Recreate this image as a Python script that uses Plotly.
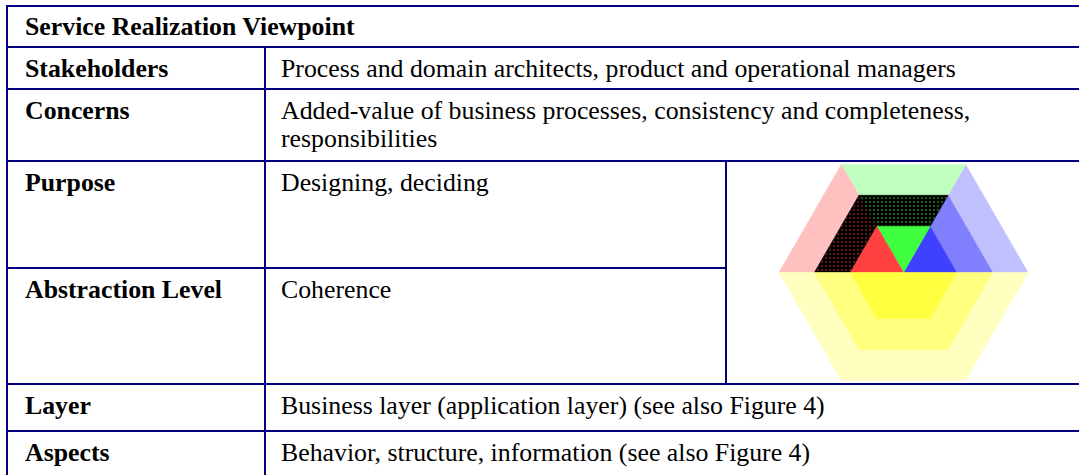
import numpy as np
import plotly.graph_objects as go

W, H = 1079, 475

# ---------------- data ----------------
title_text = "Service Realization Viewpoint"
row_labels = ["Stakeholders", "Concerns", "Purpose", "Abstraction Level", "Layer", "Aspects"]
row_values = [
    ["Process and domain architects, product and operational managers"],
    ["Added-value of business processes, consistency and completeness,", "responsibilities"],
    ["Designing, deciding"],
    ["Coherence"],
    ["Business layer (application layer) (see also Figure 4)"],
    ["Behavior, structure, information (see also Figure 4)"],
]

# hexagon (viewpoint icon): relative radii of the three rings
ring_radii = [1.0, 0.716, 0.427]
# upper half sectors: right (0-60 deg), top (60-120 deg), left (120-180 deg)
sector_angles = [(0, 60), (60, 120), (120, 180)]
upper_colors = [
    ["#C0C0FF", "#C0FFC0", "#FFC0C0"],
    ["#8080FF", "pattern:#40FF40", "pattern:#FF4040"],
    ["#4040FF", "#40FF40", "#FF4040"],
]
lower_colors = ["#FFFFC0", "#FFFF80", "#FFFF40"]

# ---------------- layout geometry ----------------
LINE = "#000080"
FONT = "Liberation Serif, Times New Roman, serif"
FS = 25.8
x_left, x_col1, x_col2 = 7, 265, 726
row_tops = [6, 47, 89, 161, 268, 384, 431]  # title, stakeholders, concerns, purpose, abstraction, layer, aspects
cx, cy, R = 903.5, 272.5, 124.5

fig = go.Figure()


def hexpt(r, ang):
    a = np.deg2rad(ang)
    return cx + r * np.cos(a), cy - r * np.sin(a)


def add_poly(pts, color):
    xs = [p[0] for p in pts] + [pts[0][0]]
    ys = [p[1] for p in pts] + [pts[0][1]]
    if color.startswith("pattern:"):
        fg = color.split(":")[1]
        fig.add_trace(go.Scatter(
            x=xs, y=ys, mode="lines", fill="toself", fillcolor="black",
            fillpattern=dict(shape=".", bgcolor="black", fgcolor=fg, size=4, solidity=0.2),
            line=dict(width=0.6, color="black"), hoverinfo="skip", showlegend=False))
    else:
        fig.add_trace(go.Scatter(
            x=xs, y=ys, mode="lines", fill="toself", fillcolor=color,
            line=dict(width=0.6, color=color), hoverinfo="skip", showlegend=False))


# upper half
for k, r_out in enumerate(ring_radii):
    r_in = ring_radii[k + 1] if k + 1 < len(ring_radii) else 0.0
    for s, (a0, a1) in enumerate(sector_angles):
        pts = [hexpt(R * r_out, a0), hexpt(R * r_out, a1)]
        if r_in > 0:
            pts += [hexpt(R * r_in, a1), hexpt(R * r_in, a0)]
        else:
            pts += [(cx, cy)]
        add_poly(pts, upper_colors[k][s])

# lower half
for k, r_out in enumerate(ring_radii):
    r_in = ring_radii[k + 1] if k + 1 < len(ring_radii) else 0.0
    outer = [hexpt(R * r_out, a) for a in (180, 240, 300, 360)]
    if r_in > 0:
        inner = [hexpt(R * r_in, a) for a in (360, 300, 240, 180)]
    else:
        inner = []
    add_poly(outer + inner, lower_colors[k])

# ---------------- table lines ----------------
shapes = []


def hline(y, x0, x1):
    shapes.append(dict(type="line", x0=x0, x1=x1, y0=y, y1=y, line=dict(color=LINE, width=2)))


def vline(x, y0, y1):
    shapes.append(dict(type="line", x0=x, x1=x, y0=y0, y1=y1, line=dict(color=LINE, width=2)))


for i, yt in enumerate(row_tops):
    if i == 4:
        hline(yt, x_left, x_col2)
    else:
        hline(yt, x_left - 1, W + 2)
vline(x_left, row_tops[0] - 1, H + 2)
vline(x_col1, row_tops[1], H + 2)
vline(x_col2, row_tops[3], row_tops[5])

# ---------------- texts ----------------
annotations = []
BASE_OFF = 30
CENTER_FROM_BASE = 8.7


def add_text(x, baseline, txt, bold=False):
    annotations.append(dict(
        x=x, y=baseline - CENTER_FROM_BASE, xref="x", yref="y",
        text=f"<b>{txt}</b>" if bold else txt, showarrow=False,
        xanchor="left", yanchor="middle",
        font=dict(family=FONT, size=FS, color="black")))


add_text(22.7, row_tops[0] + 29, title_text, bold=True)
for i, (lab, vals) in enumerate(zip(row_labels, row_values)):
    top = row_tops[i + 1]
    add_text(22.7, top + BASE_OFF, lab, bold=True)
    for j, v in enumerate(vals):
        add_text(279, top + BASE_OFF + j * 27.7, v)

fig.update_layout(
    width=W, height=H,
    margin=dict(l=0, r=0, t=0, b=0),
    paper_bgcolor="white", plot_bgcolor="white",
    xaxis=dict(range=[0, W], visible=False, fixedrange=True),
    yaxis=dict(range=[H, 0], visible=False, fixedrange=True),
    shapes=shapes, annotations=annotations, showlegend=False,
)

fig.write_html(
    "out.html",
    config={"displayModeBar": False},
    post_script="document.body.style.margin='0';document.body.style.overflow='hidden';",
)
